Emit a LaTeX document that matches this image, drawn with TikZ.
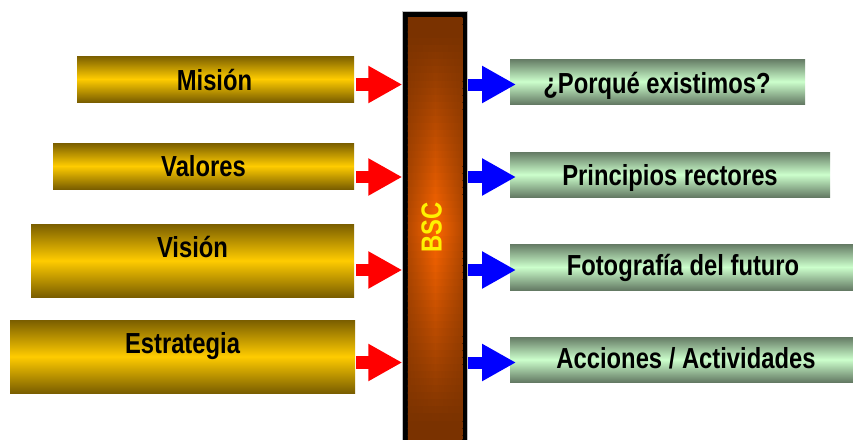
\documentclass[tikz,border=0pt]{standalone}
\usepackage{fontspec}
\setmainfont{Liberation Sans}[FakeStretch=0.82]
\usetikzlibrary{arrows.meta}
\definecolor{gdark}{RGB}{122,94,0}
\definecolor{gold}{RGB}{255,204,0}
\definecolor{grdark}{RGB}{100,122,100}
\definecolor{grlight}{RGB}{204,255,204}
\definecolor{bbrown}{RGB}{122,50,0}
\definecolor{borange}{RGB}{255,102,0}
\tikzset{
  goldbox/.style={inner sep=0pt, outer sep=0pt, top color=gdark, bottom color=gdark, middle color=gold},
  greenbox/.style={inner sep=0pt, outer sep=0pt, top color=grdark, bottom color=grdark, middle color=grlight},
  lbl/.style={font=\fontsize{29}{30}\selectfont\bfseries, inner sep=0pt, anchor=base, text=black},
  bscbar/.style={draw=black, fill=bbrown, line width=5.5pt, inner sep=0pt, outer sep=2.75pt,
    minimum width=60pt, minimum height=430.5pt},
  redarrow/.style={draw=red, line width=12.5pt, -{Triangle[width=35pt,length=34pt]}},
  bluearrow/.style={draw=blue, line width=12pt, -{Triangle[width=35pt,length=34pt]}}
}
\begin{document}
\begin{tikzpicture}[x=1pt,y=-1pt]
\useasboundingbox (0,0) rectangle (853,439);
\clip (0,0) rectangle (853,439);
\fill[white] (0,0) rectangle (853,439);
% left boxes
\node[goldbox, minimum width=277pt, minimum height=46pt] (mision) at (215.5,79) {};
\node[goldbox, minimum width=301pt, minimum height=46pt] (valores) at (203.5,166) {};
\node[goldbox, minimum width=323pt, minimum height=73pt] (vision) at (192.5,260.5) {};
\node[goldbox, minimum width=345pt, minimum height=73pt] (estrategia) at (182.5,356.5) {};
% right boxes
\node[greenbox, minimum width=295pt, minimum height=45pt] (porque) at (657.5,81.5) {};
\node[greenbox, minimum width=320pt, minimum height=45pt] (principios) at (670,174.5) {};
\node[greenbox, minimum width=343pt, minimum height=46pt] (fotografia) at (681.5,267) {};
\node[greenbox, minimum width=343pt, minimum height=45pt] (acciones) at (681.5,359.5) {};
% texts
\node[lbl] (misiont) at (214.5,90) {Misión};
\node[lbl] (valorest) at (203.5,176) {Valores};
\node[lbl] (visiont) at (192.5,257) {Visión};
\node[lbl] (estrategiat) at (182.5,353.3) {Estrategia};
\node[lbl] (porquet) at (657,93.3) {¿Porqué existimos?};
\node[lbl] (principiost) at (670,185.7) {Principios rectores};
\node[lbl] (fotografiat) at (683,275.7) {Fotografía del futuro};
\node[lbl] (accionest) at (686,368.3) {Acciones / Actividades};
% central bar
\node[bscbar] (bsc) at (435,229.75) {};
\draw[black!25, line width=0.7pt] (bsc.north west) rectangle (bsc.south east);
\foreach \i in {0,...,59}{
  \pgfmathsetmacro\ya{17.25+\i*7.08333}
  \pgfmathsetmacro\yb{\ya+7.7}
  \pgfmathsetmacro\dd{abs(\ya+3.54-229.75)/212.5}
  \pgfmathsetmacro\pp{100*max(0,(1-\dd)*1.1-0.1)}
  \pgfmathsetmacro\qq{0.45*\pp}
  \colorlet{midc}{borange!\pp!bbrown}
  \colorlet{sidec}{borange!\qq!bbrown}
  \shade[left color=sidec, right color=sidec, middle color=midc] (407.75,\ya) rectangle (462.25,\yb);
}
\node[lbl, text=yellow, rotate=90] (bsct) at (441.7,227.5) {BSC};
% arrow rows
\coordinate (r1) at (0,84.5);
\coordinate (r2) at (0,177);
\coordinate (r3) at (0,270);
\coordinate (r4) at (0,362.5);
\draw[redarrow, shorten <=2pt] (mision.east |- r1) -- (bsc.west |- r1);
\draw[redarrow, shorten <=2pt] (valores.east |- r2) -- (bsc.west |- r2);
\draw[redarrow, shorten <=2pt] (vision.east |- r3) -- (bsc.west |- r3);
\draw[redarrow, shorten <=1pt] (estrategia.east |- r4) -- (bsc.west |- r4);
\draw[bluearrow, shorten >=-6pt] (bsc.east |- r1) -- (porque.west |- r1);
\draw[bluearrow, shorten >=-6pt] (bsc.east |- r2) -- (principios.west |- r2);
\draw[bluearrow, shorten >=-6pt] (bsc.east |- r3) -- (fotografia.west |- r3);
\draw[bluearrow, shorten >=-6pt] (bsc.east |- r4) -- (acciones.west |- r4);
\end{tikzpicture}
\end{document}
